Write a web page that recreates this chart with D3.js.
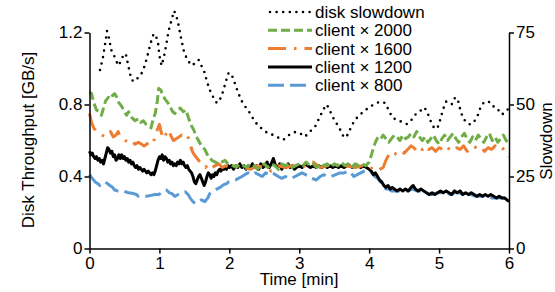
<!DOCTYPE html>
<html>
<head>
<meta charset="utf-8">
<script src="https://cdn.jsdelivr.net/npm/d3@7"></script>
<style>
  body { margin: 0; background: #fff; }
  svg, svg text, .axis { font-family: "Liberation Sans", Arial, Helvetica, sans-serif; }
  .axis path, .axis line { stroke: #000; stroke-width: 1.5; }
  .axis text { font-size: 17px; fill: #000; }
</style>
</head>
<body>
<div id="chart"></div>
<script>
// disk slowdown (right axis)
const slowT = [0.15,0.19,0.23,0.25,0.28,0.31,0.34,0.37,0.41,0.45,0.49,0.52,0.55,0.6,0.65,0.7,0.75,0.79,0.83,0.87,0.91,0.94,0.98,1.0,1.03,1.06,1.1,1.13,1.17,1.21,1.24,1.27,1.31,1.35,1.39,1.43,1.47,1.51,1.56,1.6,1.64,1.68,1.72,1.76,1.8,1.83,1.87,1.91,1.95,1.99,2.03,2.07,2.12,2.17,2.22,2.27,2.33,2.4,2.47,2.55,2.62,2.7,2.77,2.83,2.89,2.95,3.01,3.08,3.15,3.23,3.3,3.35,3.39,3.43,3.47,3.52,3.58,3.63,3.67,3.72,3.77,3.81,3.87,3.92,3.97,4.03,4.1,4.17,4.23,4.28,4.33,4.4,4.47,4.54,4.6,4.66,4.72,4.78,4.82,4.86,4.9,4.94,4.98,5.02,5.06,5.1,5.14,5.18,5.23,5.27,5.31,5.35,5.4,5.45,5.5,5.55,5.6,5.65,5.7,5.75,5.8,5.85,5.9,5.95,5.99];
const slowV = [62,66,72,75.5,73,69,67.5,66,63.5,65,67.5,67.5,64,58.5,58,59.5,61,63.5,67,71,74,74.5,71.5,67,63.5,66,71,75.5,79,82.5,81,78,73,68.5,66,64.5,63.5,64.5,65.5,63.5,61.5,58,55,53,51,50.5,52,54.5,58,61,60.5,58,54.5,51.5,49.5,48,45.5,43,41.5,40,39.5,38.5,37.7,39,40,40.5,40,38.8,40.5,42.5,46,48.5,50,48.5,46,44,41.5,39,38.5,41,43.5,45,46.5,47.5,48.5,49.5,50.5,51,50.5,48,45.5,44.5,44,43.2,44.5,46.5,47.5,49,48,45.5,43,41.5,42,45,48.5,51,50.5,50,52.5,51.5,47.5,45,43.5,43,44,46,49.5,51,51,50.5,48.5,48,46.5,47.5,48.5];

// client x 2000
const c2000T = [0,0.03,0.06,0.1,0.13,0.17,0.2,0.23,0.27,0.3,0.33,0.36,0.39,0.42,0.46,0.5,0.53,0.56,0.6,0.65,0.7,0.73,0.77,0.81,0.85,0.88,0.91,0.94,0.97,0.99,1.02,1.05,1.08,1.12,1.15,1.19,1.22,1.26,1.3,1.34,1.38,1.42,1.46,1.49,1.53,1.56,1.6,1.65,1.7,1.75,1.8,1.84,1.89,1.94,1.98,2.05,2.1,2.15,2.2,2.25,2.3,2.35,2.4,2.45,2.5,2.55,2.6,2.65,2.7,2.75,2.8,2.85,2.9,2.95,3.0,3.05,3.1,3.15,3.2,3.25,3.3,3.35,3.4,3.45,3.5,3.55,3.6,3.65,3.7,3.75,3.8,3.85,3.9,3.95,4.0,4.04,4.07,4.1,4.13,4.17,4.2,4.24,4.28,4.32,4.36,4.4,4.44,4.48,4.52,4.56,4.6,4.64,4.68,4.72,4.76,4.8,4.84,4.88,4.92,4.96,5.0,5.04,5.08,5.12,5.16,5.2,5.24,5.28,5.32,5.36,5.4,5.44,5.48,5.52,5.56,5.6,5.64,5.68,5.72,5.76,5.8,5.84,5.88,5.92,5.96,6.0];
const c2000V = [0.87,0.86,0.81,0.77,0.76,0.74,0.78,0.82,0.84,0.83,0.85,0.86,0.84,0.81,0.79,0.76,0.74,0.76,0.73,0.71,0.72,0.70,0.71,0.69,0.68,0.67,0.72,0.75,0.82,0.89,0.88,0.85,0.83,0.81,0.79,0.76,0.75,0.77,0.78,0.76,0.77,0.72,0.68,0.66,0.62,0.60,0.57,0.55,0.51,0.49,0.48,0.47,0.48,0.49,0.47,0.46,0.45,0.47,0.46,0.45,0.47,0.46,0.44,0.46,0.47,0.45,0.47,0.46,0.44,0.47,0.46,0.47,0.45,0.46,0.47,0.46,0.48,0.46,0.47,0.45,0.47,0.46,0.47,0.45,0.47,0.46,0.48,0.46,0.47,0.45,0.47,0.46,0.47,0.46,0.48,0.53,0.57,0.60,0.62,0.61,0.63,0.61,0.59,0.61,0.63,0.62,0.60,0.63,0.61,0.62,0.64,0.62,0.65,0.62,0.60,0.62,0.59,0.61,0.63,0.60,0.58,0.61,0.63,0.60,0.62,0.64,0.61,0.59,0.62,0.64,0.61,0.59,0.62,0.60,0.63,0.61,0.59,0.62,0.64,0.60,0.62,0.59,0.61,0.63,0.60,0.58];

// client x 1600
const c1600T = [0,0.03,0.06,0.1,0.14,0.18,0.22,0.26,0.3,0.34,0.38,0.41,0.44,0.47,0.51,0.56,0.6,0.65,0.7,0.74,0.78,0.82,0.86,0.9,0.94,0.97,1.0,1.03,1.06,1.1,1.13,1.16,1.2,1.24,1.28,1.32,1.36,1.4,1.44,1.47,1.5,1.54,1.58,1.62,1.66,1.7,1.75,1.8,1.85,1.9,1.95,2.0,2.1,2.2,2.3,2.4,2.5,2.6,2.7,2.8,2.9,3.0,3.1,3.2,3.3,3.4,3.5,3.6,3.7,3.8,3.9,4.0,4.05,4.1,4.15,4.2,4.24,4.28,4.32,4.36,4.4,4.45,4.5,4.55,4.6,4.64,4.68,4.72,4.76,4.8,4.85,4.9,4.95,5.0,5.05,5.1,5.15,5.2,5.25,5.3,5.35,5.4,5.45,5.5,5.55,5.6,5.65,5.7,5.75,5.8,5.85,5.9,5.95,6.0];
const c1600V = [0.75,0.70,0.67,0.65,0.64,0.63,0.62,0.64,0.65,0.62,0.63,0.65,0.62,0.61,0.60,0.59,0.60,0.58,0.59,0.58,0.57,0.58,0.59,0.58,0.62,0.66,0.69,0.64,0.61,0.64,0.66,0.63,0.60,0.61,0.62,0.63,0.62,0.63,0.58,0.54,0.52,0.50,0.48,0.46,0.45,0.47,0.45,0.46,0.47,0.45,0.46,0.45,0.46,0.45,0.44,0.46,0.45,0.43,0.46,0.45,0.46,0.45,0.46,0.48,0.45,0.46,0.47,0.45,0.46,0.45,0.46,0.46,0.44,0.43,0.44,0.45,0.49,0.52,0.51,0.53,0.52,0.54,0.53,0.55,0.57,0.56,0.54,0.56,0.55,0.57,0.55,0.56,0.54,0.56,0.55,0.57,0.55,0.54,0.56,0.55,0.57,0.54,0.55,0.57,0.55,0.56,0.54,0.56,0.55,0.57,0.55,0.56,0.54,0.51];

// client x 1200
const c1200T = [0,0.02,0.04,0.06,0.08,0.1,0.12,0.14,0.16,0.18,0.2,0.22,0.24,0.26,0.28,0.3,0.32,0.34,0.36,0.38,0.4,0.42,0.44,0.46,0.48,0.5,0.52,0.54,0.56,0.58,0.6,0.62,0.64,0.66,0.68,0.7,0.72,0.74,0.76,0.78,0.8,0.82,0.84,0.86,0.88,0.9,0.92,0.94,0.96,0.98,1.0,1.02,1.04,1.06,1.08,1.1,1.12,1.14,1.16,1.18,1.2,1.22,1.24,1.26,1.28,1.3,1.32,1.34,1.36,1.38,1.4,1.42,1.44,1.46,1.48,1.5,1.52,1.54,1.56,1.58,1.6,1.62,1.64,1.66,1.68,1.7,1.72,1.74,1.76,1.78,1.8,1.82,1.84,1.86,1.88,1.9,1.92,1.94,1.96,1.98,2.0,2.03,2.06,2.09,2.12,2.15,2.18,2.21,2.24,2.27,2.3,2.33,2.36,2.39,2.42,2.45,2.48,2.51,2.54,2.57,2.6,2.63,2.66,2.69,2.72,2.75,2.78,2.81,2.84,2.87,2.9,2.93,2.96,3.0,3.04,3.08,3.12,3.16,3.2,3.24,3.28,3.32,3.36,3.4,3.44,3.48,3.52,3.56,3.6,3.64,3.68,3.72,3.76,3.8,3.84,3.88,3.92,3.96,4.0,4.03,4.06,4.09,4.12,4.15,4.18,4.21,4.24,4.27,4.3,4.33,4.36,4.4,4.44,4.48,4.52,4.56,4.6,4.63,4.66,4.7,4.74,4.78,4.82,4.86,4.9,4.94,4.98,5.02,5.06,5.1,5.14,5.18,5.22,5.26,5.3,5.34,5.38,5.42,5.46,5.5,5.54,5.58,5.62,5.66,5.7,5.74,5.78,5.82,5.86,5.9,5.94,5.97,6.0];
const c1200V = [0.54,0.52,0.53,0.51,0.50,0.51,0.49,0.50,0.48,0.49,0.47,0.50,0.53,0.56,0.55,0.53,0.54,0.51,0.52,0.49,0.50,0.52,0.50,0.52,0.50,0.51,0.49,0.50,0.48,0.49,0.47,0.48,0.46,0.45,0.46,0.44,0.45,0.44,0.43,0.44,0.43,0.42,0.43,0.42,0.41,0.42,0.41,0.43,0.46,0.49,0.51,0.50,0.52,0.49,0.51,0.50,0.48,0.49,0.47,0.48,0.46,0.47,0.46,0.48,0.47,0.49,0.47,0.48,0.46,0.45,0.46,0.44,0.43,0.42,0.40,0.37,0.36,0.38,0.40,0.41,0.39,0.37,0.35,0.37,0.40,0.42,0.41,0.39,0.41,0.40,0.42,0.41,0.43,0.44,0.43,0.45,0.44,0.45,0.44,0.46,0.45,0.46,0.44,0.46,0.45,0.47,0.45,0.46,0.44,0.46,0.45,0.47,0.45,0.46,0.44,0.47,0.45,0.46,0.48,0.45,0.47,0.50,0.46,0.45,0.47,0.44,0.46,0.45,0.47,0.45,0.46,0.44,0.45,0.46,0.45,0.47,0.46,0.45,0.46,0.45,0.46,0.45,0.46,0.45,0.46,0.45,0.46,0.45,0.46,0.45,0.46,0.46,0.45,0.46,0.46,0.45,0.46,0.45,0.44,0.43,0.41,0.42,0.40,0.38,0.37,0.35,0.34,0.35,0.33,0.34,0.33,0.32,0.33,0.32,0.33,0.32,0.34,0.35,0.33,0.32,0.33,0.32,0.31,0.30,0.31,0.30,0.31,0.32,0.31,0.32,0.31,0.30,0.32,0.31,0.32,0.30,0.31,0.30,0.31,0.30,0.29,0.30,0.29,0.30,0.29,0.30,0.29,0.28,0.29,0.28,0.28,0.27,0.26];

// client x 800
const c800T = [0,0.04,0.08,0.12,0.15,0.19,0.22,0.26,0.29,0.33,0.36,0.4,0.45,0.51,0.56,0.63,0.67,0.7,0.75,0.82,0.88,0.94,0.99,1.03,1.07,1.1,1.14,1.18,1.22,1.27,1.32,1.37,1.41,1.44,1.48,1.51,1.55,1.6,1.65,1.69,1.72,1.77,1.82,1.87,1.92,1.96,1.99,2.04,2.09,2.13,2.18,2.22,2.27,2.32,2.37,2.42,2.47,2.52,2.57,2.62,2.66,2.7,2.75,2.8,2.85,2.89,2.94,2.99,3.04,3.09,3.14,3.19,3.24,3.3,3.35,3.4,3.46,3.52,3.58,3.64,3.7,3.74,3.78,3.83,3.88,3.93,3.97,4.0,4.04,4.08,4.12,4.16,4.2,4.24,4.28,4.32,4.38,4.44,4.5,4.56,4.62,4.68,4.74,4.8,4.86,4.92,4.98,5.04,5.1,5.16,5.22,5.28,5.34,5.4,5.46,5.52,5.58,5.64,5.7,5.76,5.82,5.88,5.94,6.0];
const c800V = [0.41,0.39,0.37,0.36,0.35,0.36,0.37,0.36,0.35,0.34,0.325,0.32,0.32,0.315,0.31,0.305,0.30,0.29,0.29,0.29,0.295,0.30,0.30,0.31,0.32,0.325,0.31,0.305,0.29,0.30,0.31,0.315,0.30,0.28,0.26,0.25,0.26,0.27,0.26,0.28,0.305,0.32,0.33,0.34,0.355,0.36,0.37,0.375,0.38,0.39,0.40,0.41,0.42,0.41,0.42,0.41,0.40,0.42,0.41,0.42,0.41,0.40,0.39,0.40,0.39,0.39,0.40,0.41,0.42,0.41,0.40,0.39,0.38,0.40,0.41,0.40,0.40,0.41,0.42,0.42,0.43,0.42,0.40,0.41,0.42,0.43,0.435,0.43,0.42,0.40,0.39,0.37,0.35,0.33,0.33,0.32,0.32,0.32,0.32,0.32,0.33,0.32,0.32,0.31,0.30,0.30,0.31,0.31,0.31,0.30,0.31,0.31,0.30,0.30,0.30,0.29,0.29,0.29,0.29,0.28,0.28,0.28,0.28,0.27];

const leftTicks = [0, 0.4, 0.8, 1.2]
const rightTicks = [0, 25, 50, 75]
const timeTicks = [0, 1, 2, 3, 4, 5, 6]

const w = 555
const h = 292
const x0 = 89.5, x1 = 509, yBot = 248.5, yTop = 32.5
const font = '"Liberation Sans", Arial, Helvetica, sans-serif'

const x = d3.scaleLinear().domain([0, 6]).range([x0, x1])
const y = d3.scaleLinear().domain([0, 1.2]).range([yBot, yTop])
const y2 = d3.scaleLinear().domain([0, 75]).range([yBot, yTop])

const svg = d3.select('#chart').append('svg')
  .attr('width', w)
  .attr('height', h)
  .attr('font-family', font)

const series = [
  { name: 'disk slowdown', t: slowT, v: slowV, scale: y2, color: '#000', width: 2.6, dash: '0 6.6', cap: 'round' },
  { name: 'client × 800', t: c800T, v: c800V, scale: y, color: '#5b9bd5', width: 3, dash: '16 6', cap: 'butt' },
  { name: 'client × 1200', t: c1200T, v: c1200V, scale: y, color: '#000', width: 3, dash: null, cap: 'butt' },
  { name: 'client × 1600', t: c1600T, v: c1600V, scale: y, color: '#ed7d31', width: 3, dash: '18 8 2.5 8', cap: 'butt' },
  { name: 'client × 2000', t: c2000T, v: c2000V, scale: y, color: '#70ad47', width: 3, dash: '9 4', cap: 'butt' }
]

series.forEach(s => {
  const line = d3.line()
    .x((d, i) => x(s.t[i]))
    .y(d => s.scale(d))
  svg.append('path')
    .datum(s.v)
    .attr('d', line)
    .attr('fill', 'none')
    .attr('stroke', s.color)
    .attr('stroke-width', s.width)
    .attr('stroke-dasharray', s.dash)
    .attr('stroke-linecap', s.cap)
    .attr('stroke-linejoin', 'round')
})

// axes
svg.append('g').attr('class', 'axis')
  .attr('transform', `translate(0,${yBot})`)
  .call(d3.axisBottom(x).tickValues(timeTicks).tickSize(5).tickSizeOuter(0).tickPadding(3)
    .tickFormat(d3.format('d')))

svg.append('g').attr('class', 'axis')
  .attr('transform', `translate(${x0},0)`)
  .call(d3.axisLeft(y).tickValues(leftTicks).tickSize(5).tickSizeOuter(0).tickPadding(2)
    .tickFormat(d => d === 0 ? '0' : d3.format('.1f')(d)))

svg.append('g').attr('class', 'axis')
  .attr('transform', `translate(${x1},0)`)
  .call(d3.axisRight(y2).tickValues(rightTicks).tickSize(5).tickSizeOuter(0).tickPadding(2))

svg.selectAll('.axis').attr('font-family', font).attr('font-size', 17)

// titles
svg.append('text')
  .attr('x', 299).attr('y', 285)
  .attr('text-anchor', 'middle')
  .style('font-size', '17px')
  .text('Time [min]')

svg.append('text')
  .attr('transform', 'translate(34,140) rotate(-90)')
  .attr('text-anchor', 'middle')
  .style('font-size', '17px')
  .text('Disk Throughput [GB/s]')

svg.append('text')
  .attr('transform', 'translate(552,141) rotate(-90)')
  .attr('text-anchor', 'middle')
  .style('font-size', '17px')
  .text('Slowdown')

// legend
const legendOrder = [0, 4, 3, 2, 1]
legendOrder.forEach((k, i) => {
  const s = series[k]
  const ly = 12 + i * 18.3
  svg.append('line')
    .attr('x1', s.cap === 'round' ? 270 : 268).attr('x2', 312)
    .attr('y1', ly).attr('y2', ly)
    .attr('stroke', s.color)
    .attr('stroke-width', s.width)
    .attr('stroke-dasharray', s.dash)
    .attr('stroke-linecap', s.cap)
  svg.append('text')
    .attr('x', 315).attr('y', ly + 6)
    .style('font-size', '17px')
    .text(s.name)
})
</script>
</body>
</html>
